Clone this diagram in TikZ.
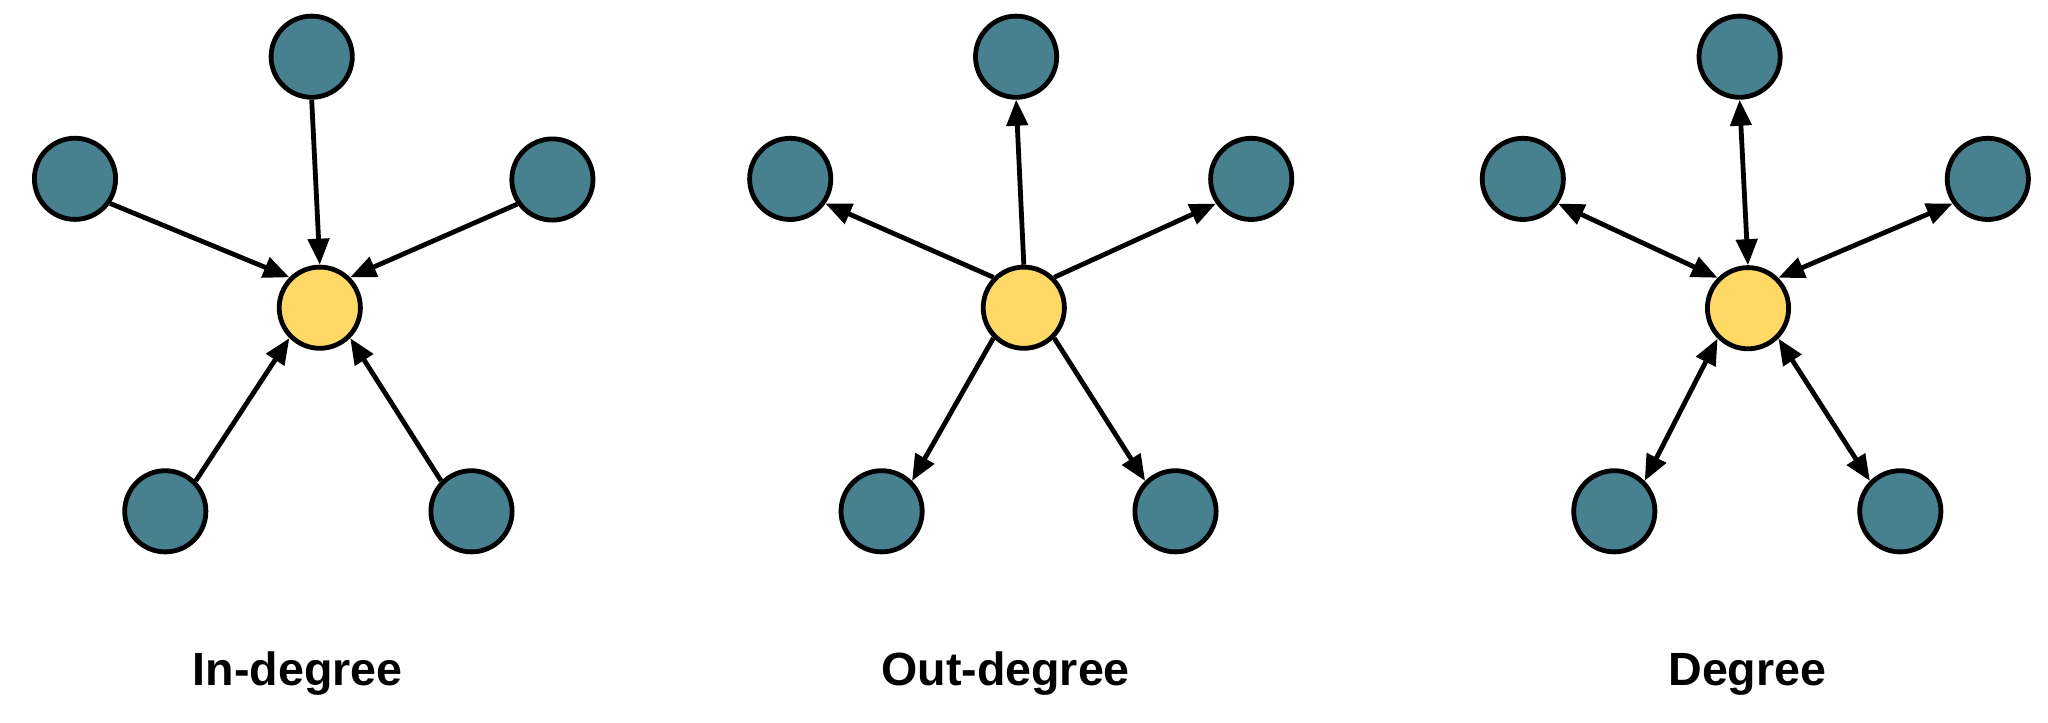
\documentclass[tikz,border=0pt]{standalone}
\usepackage{fontspec}
\setmainfont{Liberation Sans}
\usetikzlibrary{arrows.meta}
\definecolor{tealnode}{HTML}{47808E}
\definecolor{yellownode}{HTML}{FFD966}
\begin{document}
\begin{tikzpicture}[x=0.5pt,y=-0.5pt,
  leaf/.style={circle,draw=black,line width=2.4pt,fill=tealnode,minimum size=40.6pt,inner sep=0pt},
  hub/.style={circle,draw=black,line width=2.4pt,fill=yellownode,minimum size=40.6pt,inner sep=0pt},
  edge/.style={line width=2.4pt,draw=black},
  tip/.tip={Triangle[length=13pt,width=10.5pt]},
  lab/.style={font=\fontsize{23.3}{27}\selectfont\bfseries,anchor=base}]
\useasboundingbox (0,0) rectangle (2048,722);
% Panel 1: In-degree
\node[hub] (c1) at (319.8,307.7) {};
\node[leaf] (t1) at (311.7,56.7) {};
\node[leaf] (l1) at (75,178.8) {};
\node[leaf] (r1) at (552.4,179.5) {};
\node[leaf] (bl1) at (165.3,511.3) {};
\node[leaf] (br1) at (471.5,511.3) {};
\draw[edge,-tip] (t1.-90) -- (c1.90);
\draw[edge,-tip] (l1.-35) -- (c1.135);
\draw[edge,-tip] (r1.-145) -- (c1.45);
\draw[edge,-tip] (bl1.45) -- (c1.-135);
\draw[edge,-tip] (br1.135) -- (c1.-45);
\node[lab] (lab1) at (297.8,685) {In-degree};
% Panel 2: Out-degree
\node[hub] (c2) at (1023.8,307.7) {};
\node[leaf] (t2) at (1016.1,56.7) {};
\node[leaf] (l2) at (790.2,178.9) {};
\node[leaf] (r2) at (1251.2,178.9) {};
\node[leaf] (bl2) at (881.6,511.3) {};
\node[leaf] (br2) at (1175.5,511.3) {};
\draw[edge,-tip] (c2.90) -- (t2.-90);
\draw[edge,-tip] (c2.135) -- (l2.-35);
\draw[edge,-tip] (c2.45) -- (r2.-145);
\draw[edge,-tip] (c2.-135) -- (bl2.45);
\draw[edge,-tip] (c2.-45) -- (br2.135);
\node[lab] (lab2) at (1005.6,685) {Out-degree};
% Panel 3: Degree
\node[hub] (c3) at (1748,308.2) {};
\node[leaf] (t3) at (1739.6,56.7) {};
\node[leaf] (l3) at (1522.8,178.9) {};
\node[leaf] (r3) at (1987.8,178.9) {};
\node[leaf] (bl3) at (1614.3,511.3) {};
\node[leaf] (br3) at (1900.3,511.3) {};
\draw[edge,tip-tip] (c3.90) -- (t3.-90);
\draw[edge,tip-tip] (c3.135) -- (l3.-35);
\draw[edge,tip-tip] (c3.45) -- (r3.-145);
\draw[edge,tip-tip] (c3.-135) -- (bl3.45);
\draw[edge,tip-tip] (c3.-45) -- (br3.135);
\node[lab] (lab3) at (1747.4,685) {Degree};
\end{tikzpicture}
\end{document}
